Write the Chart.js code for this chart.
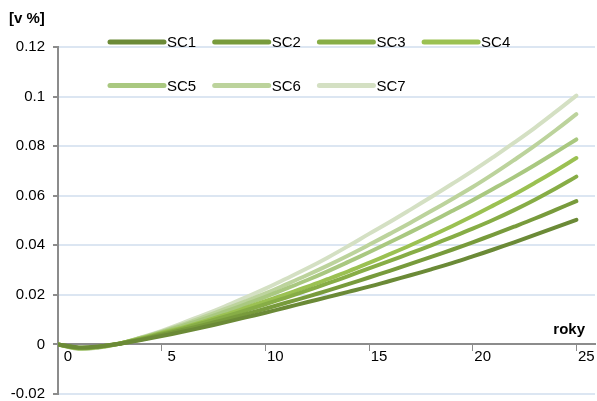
<!DOCTYPE html>
<html>
<head>
<meta charset="utf-8">
<script src="https://cdn.jsdelivr.net/npm/chart.js@4"></script>
<style>
  html, body { margin: 0; padding: 0; background: #fff; }
  #wrap { width: 597px; height: 401px; position: relative; }
</style>
</head>
<body>
<div id="wrap"><canvas id="c"></canvas></div>
<script>
// years 0..25
const years = [0,1,2,3,4,5,6,7,8,9,10,11,12,13,14,15,16,17,18,19,20,21,22,23,24,25];
const seriesNames = ['SC1','SC2','SC3','SC4','SC5','SC6','SC7'];
const seriesColors = ['#6b8a37','#789b3c','#87ad46','#9bc152','#a9c880','#bcd39c','#d4e0c3'];

const sc1 = [0,-0.0012,-0.0008,0.0003,0.0018,0.0034,0.0051,0.0069,0.0088,0.0108,0.0128,0.0149,0.0170,0.0191,0.0212,0.0233,0.0256,0.0279,0.0303,0.0328,0.0355,0.0383,0.0412,0.0442,0.0472,0.0503];
const sc2 = [0,-0.0013,-0.0008,0.0004,0.0020,0.0039,0.0058,0.0078,0.0099,0.0121,0.0144,0.0168,0.0192,0.0217,0.0243,0.0270,0.0297,0.0325,0.0353,0.0382,0.0412,0.0443,0.0475,0.0508,0.0543,0.0578];
const sc3 = [0,-0.0014,-0.0009,0.0004,0.0022,0.0043,0.0064,0.0087,0.0111,0.0136,0.0162,0.0189,0.0217,0.0246,0.0276,0.0307,0.0337,0.0368,0.0400,0.0433,0.0467,0.0503,0.0542,0.0584,0.0629,0.0677];
const sc4 = [0,-0.0015,-0.0010,0.0004,0.0024,0.0046,0.0068,0.0092,0.0118,0.0146,0.0175,0.0203,0.0232,0.0263,0.0295,0.0329,0.0364,0.0400,0.0438,0.0477,0.0518,0.0561,0.0605,0.0652,0.0701,0.0752];
const sc5 = [0,-0.0016,-0.0010,0.0004,0.0026,0.0049,0.0075,0.0102,0.0131,0.0161,0.0192,0.0225,0.0259,0.0295,0.0333,0.0372,0.0412,0.0453,0.0495,0.0538,0.0582,0.0628,0.0675,0.0724,0.0775,0.0827];
const sc6 = [0,-0.0017,-0.0011,0.0004,0.0027,0.0052,0.0080,0.0110,0.0141,0.0173,0.0206,0.0242,0.0279,0.0318,0.0359,0.0402,0.0446,0.0491,0.0538,0.0586,0.0635,0.0688,0.0744,0.0802,0.0864,0.0929];
const sc7 = [0,-0.0018,-0.0012,0.0004,0.0028,0.0055,0.0086,0.0118,0.0152,0.0188,0.0225,0.0265,0.0306,0.0350,0.0397,0.0446,0.0494,0.0544,0.0595,0.0647,0.0700,0.0756,0.0814,0.0874,0.0938,0.1004];
const seriesValues = [sc1, sc2, sc3, sc4, sc5, sc6, sc7];

const FONT = 'Liberation Sans, Arial, sans-serif';

// legend + axis titles drawn on top
const extras = {
  id: 'extras',
  afterDraw(chart) {
    const ctx = chart.ctx;
    ctx.save();
    ctx.textBaseline = 'middle';
    ctx.font = '15px ' + FONT;
    chart.data.datasets.forEach((ds, i) => {
      const col = i % 4, row = Math.floor(i / 4);
      const x0 = 110 + col * 104.7;
      const y = 42 + row * 43.5;
      ctx.strokeStyle = ds.borderColor;
      ctx.lineWidth = 5;
      ctx.lineCap = 'round';
      ctx.beginPath();
      ctx.moveTo(x0, y);
      ctx.lineTo(x0 + 54, y);
      ctx.stroke();
      ctx.fillStyle = '#000';
      ctx.textAlign = 'left';
      ctx.fillText(ds.label, x0 + 57, y + 1);
    });
    ctx.font = 'bold 15px ' + FONT;
    ctx.fillText('[v %]', 9, 19);
    ctx.textAlign = 'right';
    ctx.fillText('roky', 585, 330);
    ctx.restore();
  }
};

new Chart(document.getElementById('c'), {
  type: 'line',
  data: {
    labels: years,
    datasets: seriesNames.map((name, i) => ({
      label: name,
      data: years.map((x, j) => ({ x: x, y: seriesValues[i][j] })),
      borderColor: seriesColors[i],
      backgroundColor: seriesColors[i],
      borderWidth: 4,
      pointRadius: 0,
      tension: 0.4,
      borderCapStyle: 'round',
      fill: false
    }))
  },
  options: {
    responsive: true,
    maintainAspectRatio: false,
    animation: false,
    layout: { padding: { top: 47, right: 2, bottom: 7, left: 0 } },
    plugins: {
      legend: { display: false },
      tooltip: { enabled: false }
    },
    scales: {
      x: {
        type: 'linear',
        position: { y: 0 },
        min: 0,
        max: 25.9,
        afterFit(scale) { scale.height = 0; },
        ticks: {
          stepSize: 5,
          includeBounds: false,
          labelOffset: 10,
          padding: -3,
          color: '#000',
          font: { size: 15, family: FONT },
          maxRotation: 0
        },
        grid: {
          drawOnChartArea: false,
          drawTicks: true,
          tickLength: 6,
          color: '#8c8c8c',
          tickColor: '#8c8c8c'
        },
        border: { color: '#8c8c8c', width: 2 }
      },
      y: {
        min: -0.02,
        max: 0.12,
        afterFit(scale) {
          scale.width = 58;
          scale.paddingTop = 0;
          scale.paddingBottom = 0;
        },
        ticks: {
          stepSize: 0.02,
          padding: 8,
          color: '#000',
          font: { size: 15, family: FONT },
          callback: v => String(Number(v.toFixed(2)))
        },
        grid: {
          color: '#dce6f2',
          lineWidth: 2,
          tickLength: 5,
          tickColor: '#8c8c8c'
        },
        border: { color: '#8c8c8c', width: 2 }
      }
    }
  },
  plugins: [extras]
});
</script>
</body>
</html>
